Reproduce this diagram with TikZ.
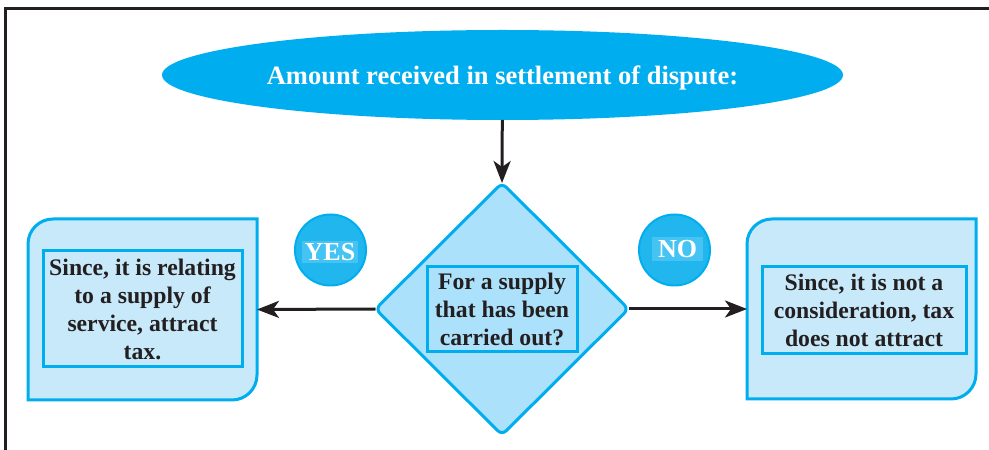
\documentclass[tikz,border=0pt]{standalone}
\usepackage{fontspec}
\setmainfont{Liberation Serif}
\usepackage{tikz}
\usetikzlibrary{positioning}
\usetikzlibrary{shapes.geometric}
\usetikzlibrary{arrows.meta}
\definecolor{cyanline}{HTML}{00AEEF}
\definecolor{boxfill}{HTML}{C7E9F9}
\definecolor{diafill}{HTML}{ABE1FA}
\definecolor{dotfill}{HTML}{22B6EE}
\definecolor{dotlight}{HTML}{45C3F2}
\definecolor{inkdark}{HTML}{231F20}

\begin{document}
\begin{tikzpicture}[
			x=1pt, y=1pt,
			every node/.style={inner sep=0pt, outer sep=0pt, align=center, text=inkdark,
				font=\bfseries\fontsize{23.7}{28}\selectfont},
			frameline/.style={line width=3pt, draw=inkdark},
			link/.style={line width=3pt, draw=inkdark, -{Stealth[length=22pt, width=17pt, inset=6pt]}},
			outline/.style={line width=3pt, draw=cyanline, fill=boxfill},
			inbox/.style={rectangle, line width=3pt, draw=cyanline},
			answer/.style={circle, minimum size=71pt, line width=2pt, draw=cyanline, fill=dotfill},
			answerlab/.style={rectangle, fill=dotlight, text=white, font=\bfseries\fontsize{26}{30}\selectfont},
			]
			\useasboundingbox (0,0) rectangle (989,450);
			\draw[frameline] (5.5,0) -- (5.5,441.5) -- (989,441.5);
			
			% top
			\node[ellipse, fill=cyanline, minimum width=681pt, minimum height=90pt, text=white, text depth=0pt,
				font=\bfseries\fontsize{26.5}{30}\selectfont] (amount) at (502.5,375)
				{Amount received in settlement of dispute:};
			
			% question
			\node[diamond, minimum width=253pt, minimum height=252pt, rounded corners=6pt,
				line width=3pt, draw=cyanline, fill=diafill] (supply) at (502,141) {};
			\node[inbox, fill=diafill, minimum width=150pt, minimum height=85pt] (supplytxt) at (502,140.5)
				{For a supply\\that has been\\carried out?};
			
			% yes side
			\node[minimum width=229pt, minimum height=181pt] (taxbox) at (142.5,140.5) {};
			\draw[outline] (taxbox.south west) -- ([yshift=-25pt]taxbox.north west)
				arc[start angle=180, end angle=90, radius=25pt] -- (taxbox.north east)
				-- ([yshift=25pt]taxbox.south east) arc[start angle=0, end angle=-90, radius=25pt] -- cycle;
			\node[inbox, fill=boxfill, minimum width=199pt, minimum height=116pt] (taxtxt) at (142.5,141)
				{Since, it is relating\\to a supply of\\service, attract\\tax.};
			
			% no side
			\node[minimum width=229pt, minimum height=180pt] (notaxbox) at (861.5,141) {};
			\draw[outline] (notaxbox.south west) -- ([yshift=-25pt]notaxbox.north west)
				arc[start angle=180, end angle=90, radius=25pt] -- (notaxbox.north east)
				-- ([yshift=25pt]notaxbox.south east) arc[start angle=0, end angle=-90, radius=25pt] -- cycle;
			\node[inbox, fill=boxfill, minimum width=204pt, minimum height=87pt] (notaxtxt) at (864,139.5)
				{Since, it is not a\\consideration, tax\\does not attract};
			
			% answers
			\node[answer] (yes) at (330.5,200) {};
			\node[answerlab, minimum width=56pt, minimum height=22pt] (yeslab) at (330,198) {YES};
			\node[answer] (no) at (674.5,200) {};
			\node[answerlab, minimum width=51pt, minimum height=24pt] (nolab) at (677.5,201) {NO};
			
			\draw[link] (amount) -- (supply.north);
			\draw[link] (supply.west) -- (taxbox.east);
			\draw[link] (supply.east) -- (notaxbox.west);
		\end{tikzpicture}
\end{document}
